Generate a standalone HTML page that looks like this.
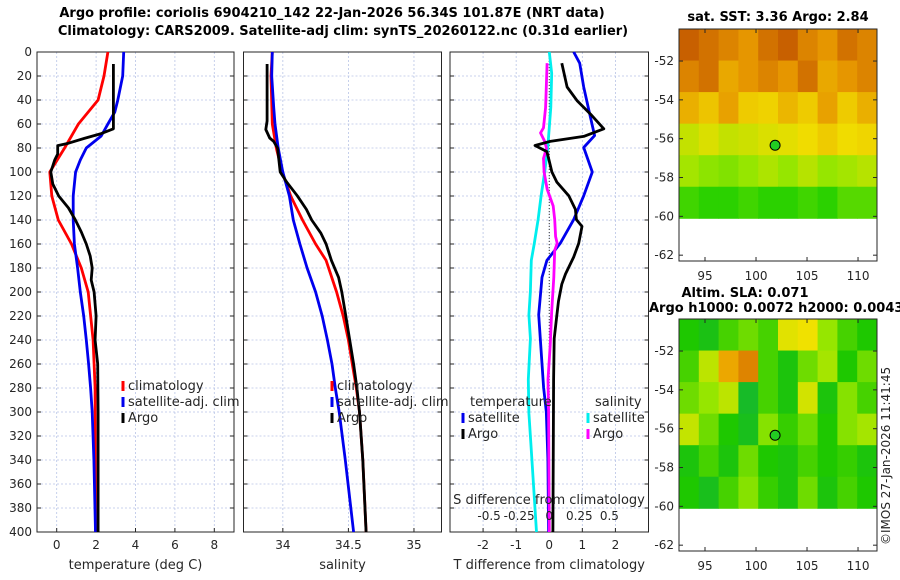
<!DOCTYPE html>
<html><head><meta charset="utf-8"><style>
body{margin:0;background:#fff;}
svg{display:block;font-family:"DejaVu Sans","Liberation Sans",sans-serif;}
.t{font-size:12px;fill:#262626;}
.b{font-size:13px;font-weight:bold;fill:#000;}
.grid{stroke:#b8c4e6;stroke-width:0.8;stroke-dasharray:2,2;}
</style></head><body>
<svg id="fig" width="900" height="580" viewBox="0 0 900 580" xmlns="http://www.w3.org/2000/svg">
<text class="b" x="332" y="17" text-anchor="middle">Argo profile: coriolis 6904210_142 22-Jan-2026 56.34S 101.87E (NRT data)</text>
<text class="b" x="343" y="35" text-anchor="middle">Climatology: CARS2009. Satellite-adj clim: synTS_20260122.nc (0.31d earlier)</text>
<g id="p1"></g>
<g id="p2"></g>
<g id="p3"></g>
<g id="m1"></g>
<g id="m2"></g>
<text class="b" x="778" y="21" text-anchor="middle">sat. SST: 3.36 Argo: 2.84</text>
<text class="b" x="745" y="297" text-anchor="middle">Altim. SLA: 0.071</text>
<text class="b" x="649" y="312">Argo h1000: 0.0072 h2000: 0.0043</text>
<text class="t" transform="translate(890,545) rotate(-90)">©IMOS 27-Jan-2026 11:41:45</text>
</svg>
<script>
// ---- data ----
const tClimDepth=[0,20,40,60,80,100,120,140,160,180,200,240,280,400];
const tClimVal=[2.6,2.4,2.1,1.1,0.4,-0.35,-0.25,0.08,0.75,1.25,1.6,1.85,1.95,1.97];
const tSatDepth=[0,20,40,50,60,70,80,90,100,120,140,160,180,200,220,240,260,280,300,340,400];
const tSatVal=[3.4,3.35,3.1,2.95,2.6,2.26,1.5,1.2,0.96,0.84,0.84,0.9,1.06,1.2,1.37,1.5,1.62,1.72,1.8,1.89,1.97];
const tArgoDepth=[10,64,68,72,76,78,85,90,100,110,120,130,140,150,160,170,180,190,200,220,240,260,300,400];
const tArgoVal=[2.88,2.88,2.26,1.4,0.6,0.05,0.05,-0.1,-0.3,-0.2,0.1,0.6,0.95,1.25,1.5,1.7,1.8,1.75,1.9,2.0,1.95,2.08,2.1,2.1];
const sClimDepth=[0,20,60,80,100,120,140,160,173.7,200,220,240,260,280,300,340,400];
const sClimVal=[33.92,33.91,33.92,33.95,33.995,34.06,34.15,34.25,34.33,34.41,34.46,34.5,34.53,34.56,34.585,34.61,34.635];
const sSatDepth=[0,20,46,60,80,100,120,140,160,180,200,220,240,260,280,300,340,400];
const sSatVal=[33.92,33.915,33.93,33.94,33.965,34.0,34.05,34.08,34.13,34.185,34.25,34.3,34.34,34.375,34.4,34.43,34.476,34.54];
const sArgoDepth=[10,57.5,64.6,71.7,74.5,80.2,100,108.5,119.8,131.2,140,151,160,173.7,187.8,200,220,240,260,280,300,340,400];
const sArgoVal=[33.88,33.88,33.87,33.9,33.93,33.96,33.98,34.03,34.11,34.18,34.22,34.29,34.33,34.37,34.425,34.45,34.48,34.51,34.54,34.565,34.585,34.61,34.635];
const dTSatDepth=[0,9.3,29.2,49,69.7,79.6,100,119.8,139.7,159.5,173.7,187.8,219,238.8,259.8,279.6,299.7,339.7,400];
const dTSatVal=[0.74,0.92,1.04,1.2,1.37,1.04,1.3,1.04,0.74,0.33,-0.07,-0.22,-0.32,-0.27,-0.22,-0.17,-0.09,-0.04,-0.02];
const dTArgoDepth=[9.3,29.2,40.5,51.8,64,70.3,74.5,77.9,83,88.7,100,108.5,119.8,131.2,139.7,145.3,159.5,170.8,185,193.5,207.6,219,238.8,272.8,400];
const dTArgoVal=[0.38,0.54,0.84,1.25,1.65,1.04,0.03,-0.43,-0.07,-0.02,0.08,0.23,0.59,0.79,0.82,0.99,0.89,0.74,0.49,0.38,0.28,0.23,0.15,0.13,0.11];
const dSSatDepth=[0,17.8,46.2,80.2,100,119.8,139.7,159.5,173.7,199.2,219,238.8,272.8,301,339.7,400];
const dSSatVal=[0,0.02,0.013,-0.013,-0.038,-0.068,-0.093,-0.124,-0.149,-0.157,-0.169,-0.157,-0.174,-0.169,-0.144,-0.106];
const dSArgoDepth=[9.3,46.2,63.2,67.4,74.5,80.2,88.7,100,114.2,128.3,139.7,153.8,159.5,165.2,187.8,216.1,244.5,272.8,301,400];
const dSArgoVal=[-0.018,-0.03,-0.048,-0.073,-0.038,-0.023,-0.048,-0.043,-0.018,0.033,0.045,0.053,0.066,0.045,0.038,0.02,0.008,-0.01,-0.005,0];
const depthTicks=[0,20,40,60,80,100,120,140,160,180,200,220,240,260,280,300,320,340,360,380,400];
const tTicks=[0,2,4,6,8];
const sTicks=[34,34.5,35];
const sTickLabels=["34","34.5","35"];
const dTTicks=[-2,-1,0,1,2];
const dSTicks=[-0.5,-0.25,0,0.25,0.5];
const dSTickLabels=["-0.5","-0.25","0","0.25","0.5"];
const sstGrid=[
[.9,.85,.8,.75,.85,.9,.8,.75,.85,.8],
[.8,.85,.7,.75,.8,.75,.85,.7,.75,.8],
[.68,.62,.72,.6,.58,.66,.6,.72,.6,.68],
[.45,.5,.45,.47,.5,.52,.55,.6,.55,.57],
[.38,.33,.3,.35,.4,.35,.42,.35,.38,.42],
[.15,.1,.1,.15,.1,.1,.15,.1,.2,.2]];
const slaGrid=[
[.45,.4,.5,.55,.5,.7,.72,.6,.5,.45],
[.5,.65,.82,.88,.5,.42,.55,.62,.45,.55],
[.55,.6,.65,.35,.5,.42,.68,.42,.58,.5],
[.66,.55,.45,.38,.58,.48,.55,.45,.58,.62],
[.42,.5,.42,.55,.45,.42,.5,.45,.48,.42],
[.45,.38,.5,.58,.48,.42,.55,.42,.5,.45]];
const latTicks=[-52,-54,-56,-58,-60,-62];
const lonTicks=[95,100,105,110];
const argoLon=101.87, argoLat=-56.34;
// ---- drawing ----
const NS="http://www.w3.org/2000/svg";
function mk(tag,parent,attrs){const e=document.createElementNS(NS,tag);for(const k in attrs)e.setAttribute(k,attrs[k]);parent.appendChild(e);return e;}
const Y0=52,Y1=532;
function yD(d){return Y0+(d/400)*(Y1-Y0);}
function scale(a,b,x0,x1){return v=>x0+(v-a)/(b-a)*(x1-x0);}
function panel(g,x0,x1,xs,xt,xl,showY,label){
  depthTicks.forEach(d=>{const l=mk('line',g,{x1:x0,x2:x1,y1:yD(d),y2:yD(d),class:'grid'});
    
    mk('line',g,{x1:x0,x2:x0+4,y1:yD(d),y2:yD(d),stroke:'#262626'});mk('line',g,{x1:x1-4,x2:x1,y1:yD(d),y2:yD(d),stroke:'#262626'});
    if(showY){const t=mk('text',g,{x:x0-5,y:yD(d)+4,'text-anchor':'end',class:'t'});t.textContent=d;
      }});
  xt.forEach((v,i)=>{const x=xs(v);const l=mk('line',g,{x1:x,x2:x,y1:Y0,y2:Y1,class:'grid'});
    
    mk('line',g,{x1:x,x2:x,y1:Y1,y2:Y1-4,stroke:'#262626'});
    const t=mk('text',g,{x:x,y:Y1+17,'text-anchor':'middle',class:'t'});t.textContent=xl[i];
    });
  const r=mk('rect',g,{x:x0,y:Y0,width:x1-x0,height:Y1-Y0,fill:'none',stroke:'#262626','stroke-width':1});
  
  const t=mk('text',g,{x:(x0+x1)/2,y:Y1+37,'text-anchor':'middle',class:'t'});t.textContent=label;t.style.fontSize='13px';
  
}
function line(g,xs,dep,val,col,name){const pts=dep.map((d,i)=>xs(val[i]).toFixed(1)+','+yD(d).toFixed(1)).join(' ');
  const p=mk('polyline',g,{points:pts,fill:'none',stroke:col,'stroke-width':2.8,'stroke-linejoin':'round'});
  }
function legend(g,x,y,items){items.forEach((it,i)=>{const yy=y+i*16;
  mk('line',g,{x1:x,x2:x,y1:yy-9,y2:yy+1,stroke:it[0],'stroke-width':3});
  const t=mk('text',g,{x:x+5,y:yy,class:'t'});t.textContent=it[1];t.style.fontSize='13px';
  });}
// panel 1
const g1=document.getElementById('p1');const xT=scale(-1,9,37,234);
panel(g1,37,234,xT,tTicks,tTicks.map(String),true,'temperature (deg C)');
line(g1,xT,tClimDepth,tClimVal,'#ff0000','climatology-temperature-line');
line(g1,xT,tSatDepth,tSatVal,'#0000ee','satellite-temperature-line');
line(g1,xT,tArgoDepth,tArgoVal,'#000','argo-temperature-line');
legend(g1,123,390,[['#ff0000','climatology'],['#0000ee','satellite-adj. clim'],['#000','Argo']]);
// panel 2
const g2=document.getElementById('p2');const xS=scale(33.7,35.21,243.5,441.5);
panel(g2,243.5,441.5,xS,sTicks,sTickLabels,false,'salinity');
line(g2,xS,sClimDepth,sClimVal,'#ff0000','climatology-salinity-line');
line(g2,xS,sSatDepth,sSatVal,'#0000ee','satellite-salinity-line');
line(g2,xS,sArgoDepth,sArgoVal,'#000','argo-salinity-line');
legend(g2,332,390,[['#ff0000','climatology'],['#0000ee','satellite-adj. clim'],['#000','Argo']]);
// panel 3
const g3=document.getElementById('p3');const xdT=scale(-3,3,450,648.5);const xdS=scale(-0.825,0.825,450,648.5);
panel(g3,450,648.5,xdT,dTTicks,dTTicks.map(String),false,'T difference from climatology');
const z=mk('line',g3,{x1:xdT(0),x2:xdT(0),y1:Y0,y2:Y1,stroke:'#333','stroke-dasharray':'1,2'});

line(g3,xdS,dSSatDepth,dSSatVal,'#00eeee','satellite-salinity-diff-line');
line(g3,xdT,dTSatDepth,dTSatVal,'#0000ee','satellite-temperature-diff-line');
line(g3,xdS,dSArgoDepth,dSArgoVal,'#ff00ff','argo-salinity-diff-line');
line(g3,xdT,dTArgoDepth,dTArgoVal,'#000','argo-temperature-diff-line');
{const t=mk('text',g3,{x:470,y:406,class:'t'});t.textContent='temperature';t.style.fontSize='13px';
 const t2=mk('text',g3,{x:595,y:406,class:'t'});t2.textContent='salinity';t2.style.fontSize='13px';}
legend(g3,463,422,[['#0000ee','satellite'],['#000','Argo']]);
legend(g3,588,422,[['#00eeee','satellite'],['#ff00ff','Argo']]);
{const t=mk('text',g3,{x:549,y:504,'text-anchor':'middle',class:'t'});t.textContent='S difference from climatology';t.style.fontSize='13px';
 
 dSTicks.forEach((v,i)=>{const l=mk('text',g3,{x:xdS(v),y:520,'text-anchor':'middle',class:'t'});l.textContent=dSTickLabels[i];
  });}
// maps
function cmap(stops,v){v=Math.max(0,Math.min(1,v));for(let i=1;i<stops.length;i++){if(v<=stops[i][0]){const a=stops[i-1],b=stops[i],f=(v-a[0])/(b[0]-a[0]);
  return 'rgb('+[1,2,3].map(k=>Math.round(a[k]+(b[k]-a[k])*f)).join(',')+')';}}return 'rgb(0,0,0)';}
const sstStops=[[0,0,200,0],[0.35,150,230,0],[0.55,240,220,0],[0.75,230,150,0],[1,180,60,0]];
const slaStops=[[0,0,150,100],[0.3,20,180,60],[0.45,30,200,0],[0.6,150,230,0],[0.72,240,225,0],[0.85,235,150,0],[1,170,60,0]];
function map(g,top,bot,grid,stops,nm){
  const x0=679,x1=877;const lon=scale(92.45,111.86,x0,x1);
  const latY=v=>top+( -50.35 - v)/(62.3-50.35)*(bot-top);
  const rows=grid.length,cols=grid[0].length;const yEnd=latY(-60.1);
  const cw=(x1-x0)/cols,ch=(yEnd-top)/rows;
  grid.forEach((row,r)=>row.forEach((v,c)=>{const e=mk('rect',g,{x:x0+c*cw,y:top+r*ch,width:cw+0.5,height:ch+0.5,fill:cmap(stops,v)});
    }));
  const b=mk('rect',g,{x:x0,y:top,width:x1-x0,height:bot-top,fill:'none',stroke:'#262626'});
  
  latTicks.forEach(v=>{const y=latY(v);mk('line',g,{x1:x0,x2:x0+4,y1:y,y2:y,stroke:'#262626'});mk('line',g,{x1:x1,x2:x1-4,y1:y,y2:y,stroke:'#262626'});
    const t=mk('text',g,{x:x0-5,y:y+4,'text-anchor':'end',class:'t'});t.textContent=v;
    });
  lonTicks.forEach(v=>{const x=lon(v);mk('line',g,{x1:x,x2:x,y1:bot,y2:bot-4,stroke:'#262626'});mk('line',g,{x1:x,x2:x,y1:top,y2:top+4,stroke:'#262626'});
    const t=mk('text',g,{x:x,y:bot+19,'text-anchor':'middle',class:'t'});t.textContent=v;
    });
  const c=mk('circle',g,{cx:lon(argoLon),cy:latY(argoLat),r:5,fill:'#22cc22',stroke:'#000','stroke-width':1});
  
}
map(document.getElementById('m1'),29,261,sstGrid,sstStops,'sst');
map(document.getElementById('m2'),319,551,slaGrid,slaStops,'sla');
</script>
</body></html>
